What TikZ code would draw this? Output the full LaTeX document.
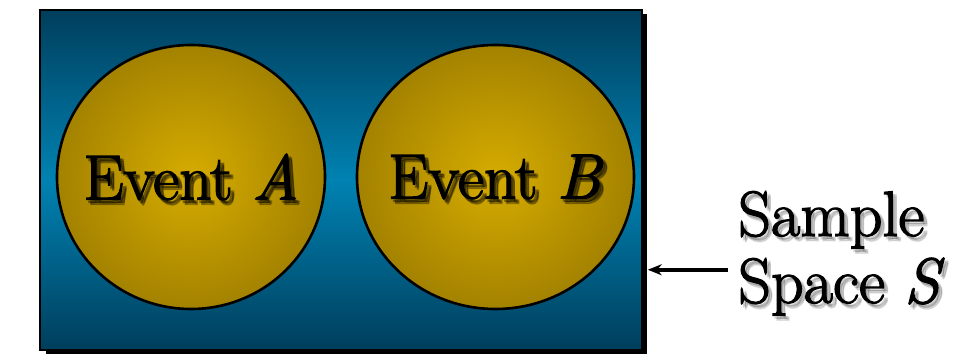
\documentclass[tikz,border=0pt]{standalone}
\usepackage{fontspec}
\usetikzlibrary{arrows.meta,shapes.geometric}

\definecolor{deepsea}{RGB}{0,62,92}
\definecolor{midsea}{RGB}{0,130,178}
\definecolor{goldcore}{RGB}{214,172,0}
\definecolor{goldrim}{RGB}{112,88,0}

% ball-like fill for the two events, rim colour reached at the outline
\pgfdeclareradialshading{eventball}{\pgfpoint{0bp}{0bp}}{%
  color(0bp)=(goldcore); color(50bp)=(goldrim); color(72bp)=(goldrim)}

\newfontfamily\heavyserif{Latin Modern Roman}[FakeBold=2]
\newcommand{\bigtype}{\heavyserif\fontsize{64}{67}\selectfont}

\tikzset{
  spacebox/.style={draw=black, line width=1.5pt, minimum width=602pt,
    minimum height=340pt, inner sep=0pt, top color=deepsea,
    bottom color=deepsea, middle color=midsea},
  event/.style={ellipse, draw=black, line width=2.6pt, inner sep=0pt,
    shading=eventball},
  bigtext/.style={font=\bigtype, inner sep=0pt},
  pointer/.style={-{Stealth[length=14pt,width=11pt]}, line width=3.5pt}
}

\begin{document}
\begin{tikzpicture}[x=1pt, y=1pt]
  \useasboundingbox (0,0) rectangle (959,354);

  % Sample space with its drop shadow
  \fill[black] (46,0) rectangle (647,340);
  \node[spacebox] (space) at (341,174) {};

  % The two events
  \node[event, minimum width=268pt, minimum height=264pt] (evA) at (191,177) {};
  \node[event, minimum width=277pt, minimum height=264pt] (evB) at (495.5,177) {};

  % Soft shadows under the words
  \foreach \dx/\dy in {2/-3, 4/-5, 4/-3}
  {
    \node[bigtext, text=black, opacity=0.25] at ([shift={(\dx,\dy)}]evA.center) {Event \textit{A}};
    \node[bigtext, text=black, opacity=0.25] at ([shift={(\dx,\dy)}]evB.center) {Event \textit{B}};
    \node[bigtext, text=black, opacity=0.1, anchor=north west, align=left]
      at (738+\dx,163+\dy) {Sample\\Space \textit{S}};
  }

  % Labels
  \node[bigtext] (txtA) at (evA.center) {Event \textit{A}};
  \node[bigtext] (txtB) at (evB.center) {Event \textit{B}};
  \node[bigtext, anchor=north west, align=left] (label) at (738,163)
    {Sample\\Space \textit{S}};

  % Pointer from the label to the box
  \coordinate (tip) at ([yshift=81pt]space.south east);
  \draw[pointer] (label.west |- tip) ++(-10,0) -- ([xshift=5pt]tip);
\end{tikzpicture}
\end{document}
